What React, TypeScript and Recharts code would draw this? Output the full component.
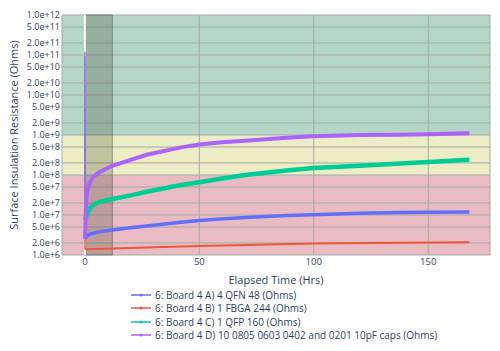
import React from 'react'
import { LineChart, Line, XAxis, YAxis, CartesianGrid, ReferenceArea, ReferenceLine } from 'recharts'

// readings per board, hours vs ohms
const aHours = [0, 0.05, 1.5, 3.6, 7, 12, 20, 27, 42, 50, 60, 70, 88, 100, 120, 138, 150, 168]
const aOhms = [5e9, 2.6e6, 3.2e6, 3.5e6, 3.9e6, 4.2e6, 4.8e6, 5.3e6, 6.6e6, 7.3e6, 8e6, 8.6e6, 9.7e6, 1.02e7, 1.1e7, 1.15e7, 1.17e7, 1.19e7]

const bHours = [0, 0.03, 0.06, 12, 27, 50, 70, 100, 138, 168]
const bOhms = [5e8, 3.8e8, 1.4e6, 1.45e6, 1.55e6, 1.68e6, 1.78e6, 1.93e6, 2.02e6, 2.08e6]

const cHours = [0, 0.05, 1.5, 3.6, 7, 12, 20, 27, 42, 50, 60, 70, 88, 100, 120, 138, 150, 168]
const cOhms = [9.5e10, 7.5e6, 1.3e7, 1.8e7, 2.2e7, 2.5e7, 3.1e7, 3.8e7, 5.6e7, 6.6e7, 8.2e7, 1e8, 1.3e8, 1.5e8, 1.7e8, 1.95e8, 2.1e8, 2.4e8]

const dHours = [0, 0.05, 0.5, 1, 2, 3.6, 6.6, 12, 20, 27, 42, 50, 60, 70, 88, 100, 120, 138, 150, 168]
const dOhms = [1.2e11, 2.5e6, 2e7, 4e7, 6.2e7, 9e7, 1.2e8, 1.7e8, 2.4e8, 3.2e8, 4.9e8, 5.8e8, 6.6e8, 7.2e8, 8.5e8, 9.3e8, 1e9, 1.02e9, 1.05e9, 1.1e9]

// index where the steady readings begin (before it: the start-up spike)
const settleIndex = [1, 2, 1, 1]

const yTicks = [1e6, 2e6, 5e6, 1e7, 2e7, 5e7, 1e8, 2e8, 5e8, 1e9, 2e9, 5e9, 1e10, 2e10, 5e10, 1e11, 2e11, 5e11, 1e12]
const xTicks = [0, 50, 100, 150]

const seriesNames = [
  '6: Board 4 A) 4 QFN 48 (Ohms)',
  '6: Board 4 B) 1 FBGA 244 (Ohms)',
  '6: Board 4 C) 1 QFP 160 (Ohms)',
  '6: Board 4 D) 10 0805 0603 0402 and 0201 10pF caps (Ohms)',
]
const colors = ['#636efa', '#EF553B', '#00cc96', '#ab63fa']
const widths = [3.5, 2, 4.5, 4]

const toRows = (hours: number[], ohms: number[]) => hours.map((h, i) => ({ hrs: h, ohms: ohms[i] }))
const allRows = [toRows(aHours, aOhms), toRows(bHours, bOhms), toRows(cHours, cOhms), toRows(dHours, dOhms)]

// stripes between horizontal grid lines, top to bottom: pass / marginal / fail
const GREEN = '#b4d6c6'
const YELLOW = '#ecedc4'
const RED = '#e8bcc2'
const stripeFills = [...Array(9).fill(GREEN), ...Array(3).fill(YELLOW), ...Array(6).fill(RED)]

const font = '"Open Sans", sans-serif'
const textColor = '#2a3f5f'

export default function App() {
  return (
    <div style={{ position: 'absolute', left: 0, top: 0, width: 500, height: 351, background: 'white', fontFamily: font }}>
      <LineChart width={500} height={351} margin={{ top: 15, right: 10, bottom: 61, left: 5 }}>
        <CartesianGrid stroke="#a3aaa6" strokeWidth={1} horizontalFill={stripeFills} />
        <XAxis
          type="number"
          dataKey="hrs"
          domain={[-10, 177]}
          allowDataOverflow
          ticks={xTicks}
          tickLine={false}
          axisLine={false}
          height={35}
          tickSize={3}
          tickMargin={0}
          tick={{ fontSize: 9.5, fill: textColor, fontFamily: font }}
          label={{ value: 'Elapsed Time (Hrs)', position: 'insideBottom', offset: 6, fontSize: 11, fill: textColor, fontFamily: font }}
        />
        <YAxis
          type="number"
          dataKey="ohms"
          scale="log"
          domain={[1e6, 1e12]}
          allowDataOverflow
          ticks={yTicks}
          interval={0}
          tickFormatter={(v: number) => v.toExponential(1)}
          tickLine={false}
          axisLine={false}
          width={57}
          tickSize={2}
          tickMargin={0}
          tick={{ fontSize: 9, fill: textColor, fontFamily: font }}
          label={{
            value: 'Surface Insulation Resistance (Ohms)',
            angle: -90,
            position: 'insideLeft',
            offset: 9,
            fontSize: 11,
            fill: textColor,
            fontFamily: font,
            style: { textAnchor: 'middle' },
          }}
        />
        <ReferenceLine x={0} stroke="#ffffff" strokeWidth={2} />
        <ReferenceArea x1={0} x2={12} fill="rgb(40,45,20)" fillOpacity={0.22} stroke="rgb(60,70,90)" strokeOpacity={0.45} />
        {allRows.map((rows, i) => (
          <Line
            key={'spike' + i}
            data={rows.slice(0, settleIndex[i] + 1)}
            dataKey="ohms"
            type="linear"
            stroke={colors[i]}
            strokeWidth={1.5}
            dot={false}
            isAnimationActive={false}
          />
        ))}
        {allRows.map((rows, i) => (
          <Line
            key={seriesNames[i]}
            data={rows.slice(settleIndex[i])}
            dataKey="ohms"
            name={seriesNames[i]}
            type="linear"
            stroke={colors[i]}
            strokeWidth={widths[i]}
            dot={false}
            isAnimationActive={false}
          />
        ))}
      </LineChart>
      <div style={{ position: 'absolute', left: 130, top: 288 }}>
        {seriesNames.map((n, i) => (
          <div key={n} style={{ height: 13.5, display: 'flex', alignItems: 'center', fontSize: 10, color: textColor, whiteSpace: 'nowrap' }}>
            <svg width={22} height={8} style={{ marginRight: 3 }}>
              <line x1={1} y1={4} x2={21} y2={4} stroke={colors[i]} strokeWidth={1.5} />
              <circle cx={11} cy={4} r={1.5} fill={colors[i]} />
            </svg>
            {n}
          </div>
        ))}
      </div>
    </div>
  )
}
